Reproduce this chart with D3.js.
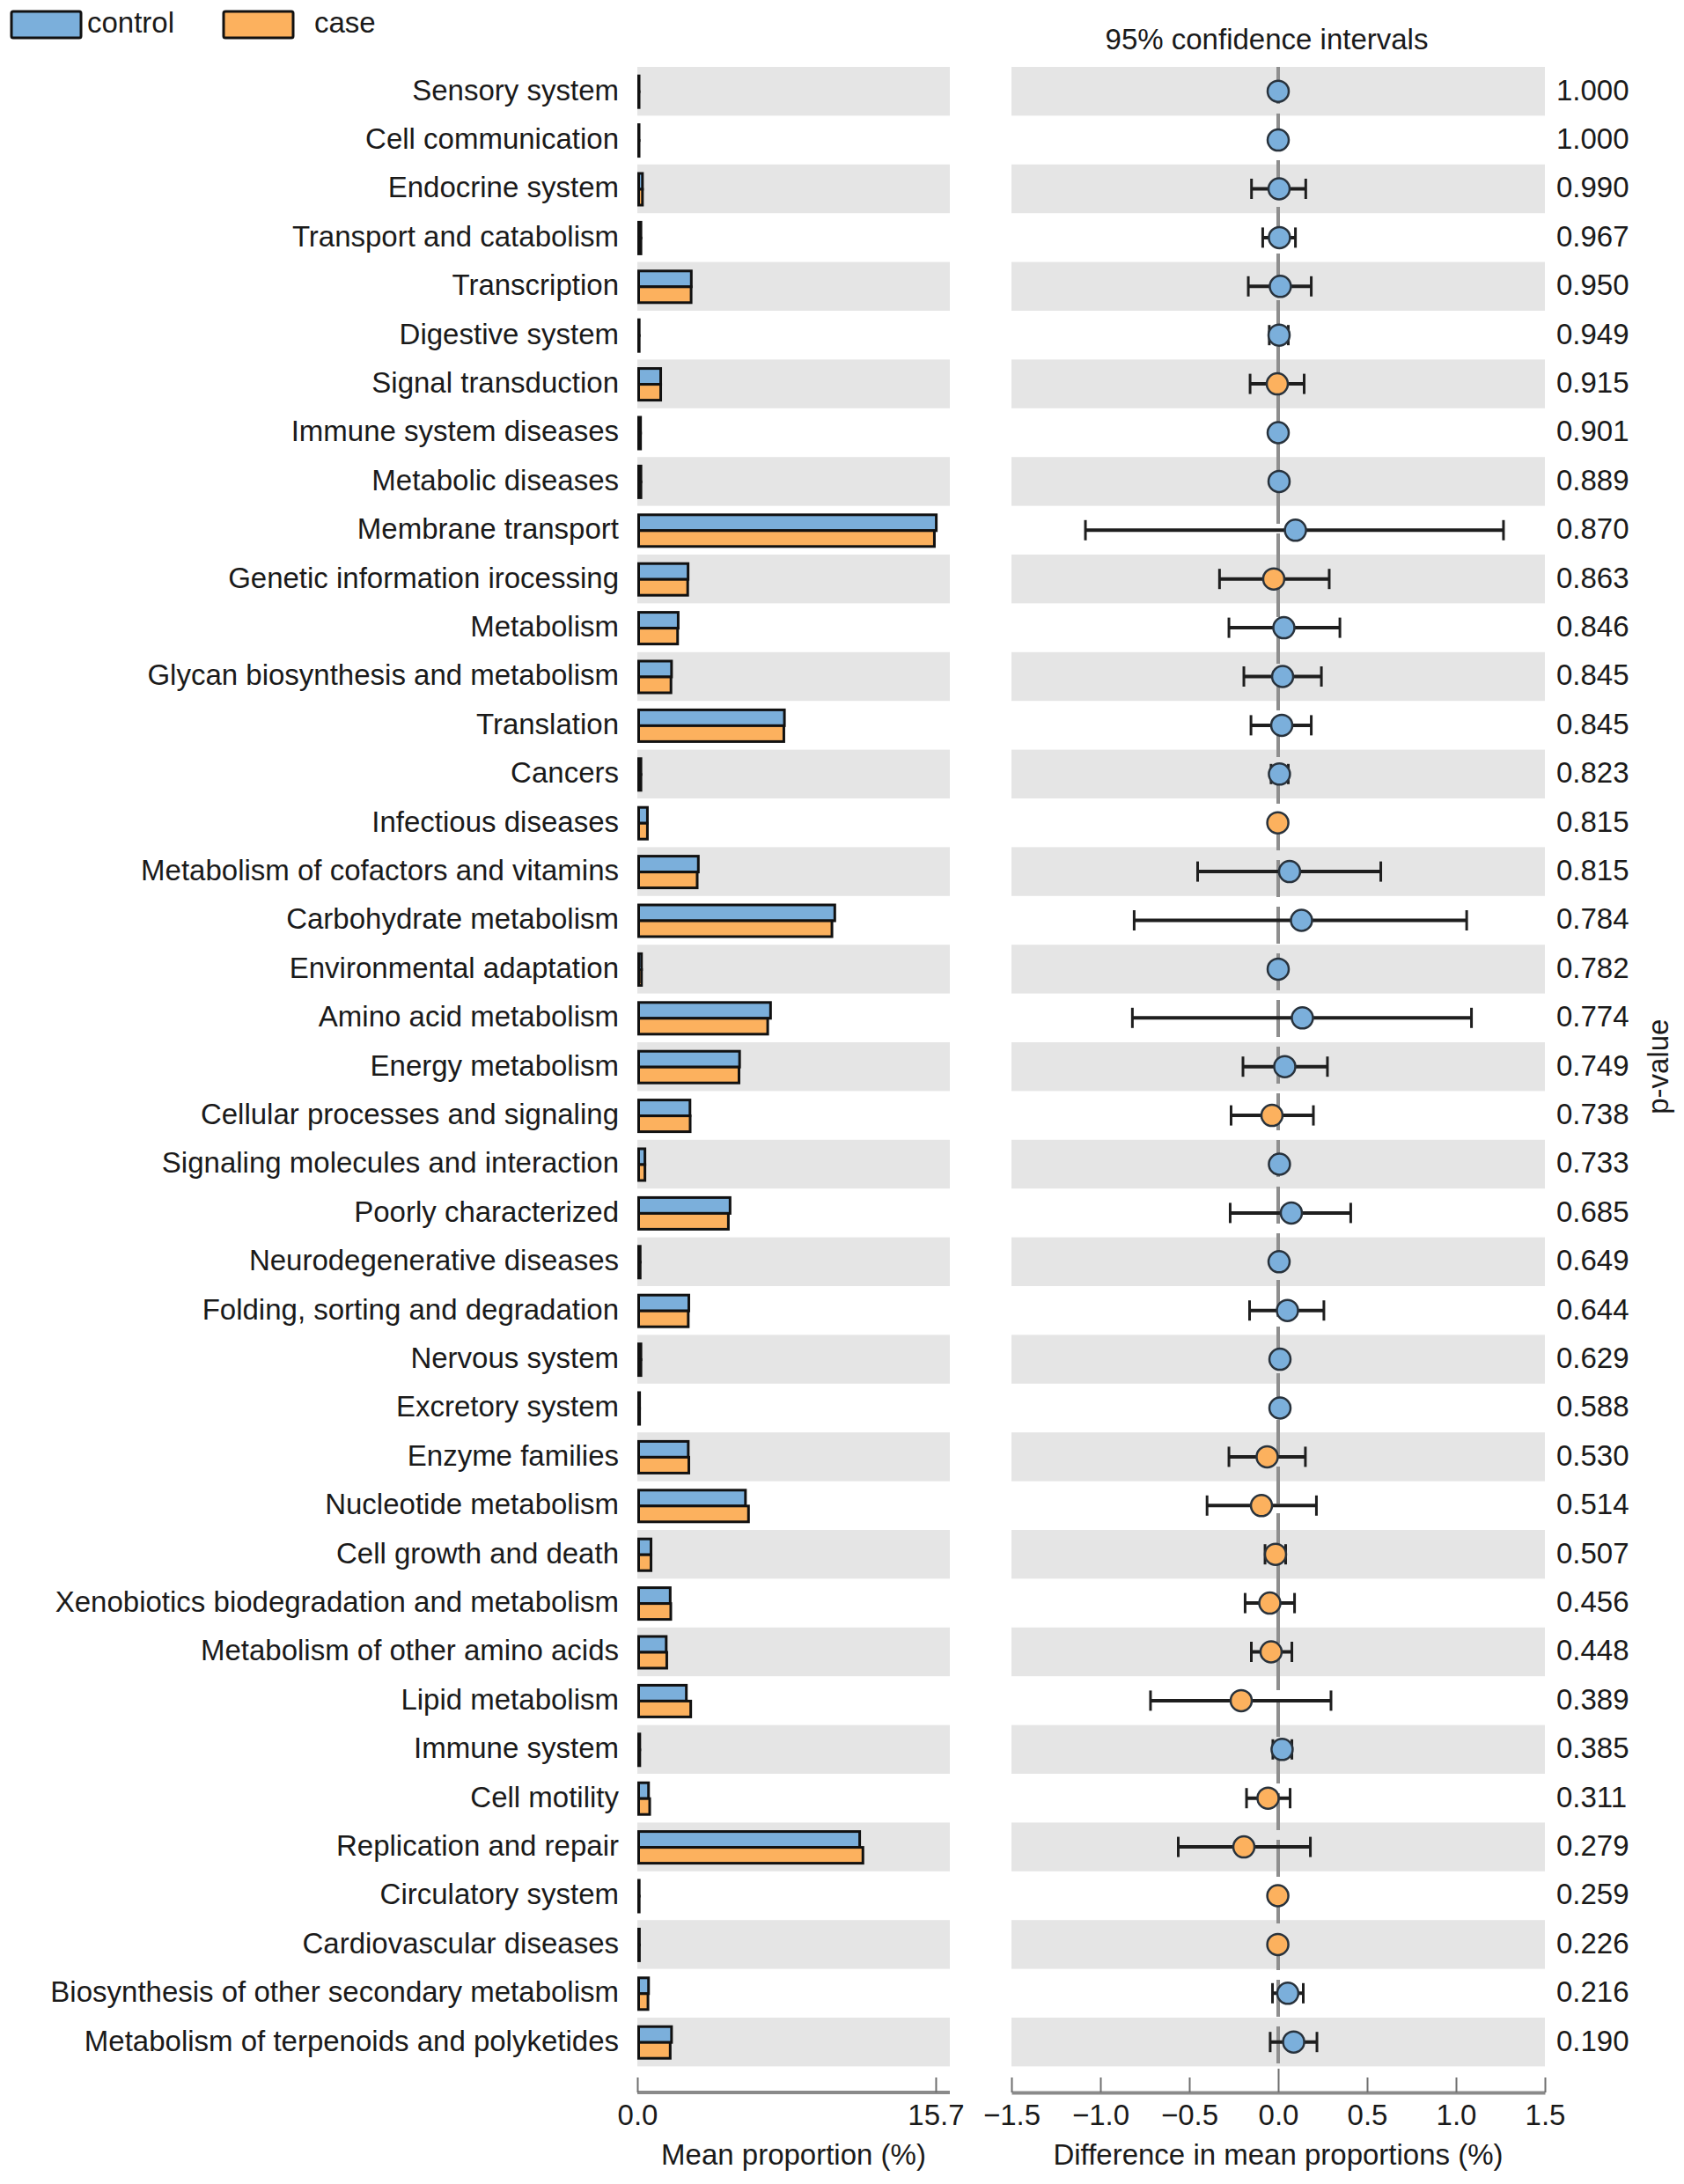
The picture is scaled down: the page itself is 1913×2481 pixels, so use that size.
<!DOCTYPE html>
<html>
<head>
<meta charset="utf-8">
<script src="https://cdn.jsdelivr.net/npm/d3@7"></script>
<style>
  body { margin: 0; background: #fff; }
  text { font-family: "Liberation Sans", Arial, Helvetica, sans-serif; fill: #1a1a1a; }
</style>
</head>
<body>
<svg id="chart"></svg>
<script>
const categories = [
  "Sensory system", "Cell communication", "Endocrine system", "Transport and catabolism",
  "Transcription", "Digestive system", "Signal transduction", "Immune system diseases",
  "Metabolic diseases", "Membrane transport", "Genetic information irocessing", "Metabolism",
  "Glycan biosynthesis and metabolism", "Translation", "Cancers", "Infectious diseases",
  "Metabolism of cofactors and vitamins", "Carbohydrate metabolism", "Environmental adaptation",
  "Amino acid metabolism", "Energy metabolism", "Cellular processes and signaling",
  "Signaling molecules and interaction", "Poorly characterized", "Neurodegenerative diseases",
  "Folding, sorting and degradation", "Nervous system", "Excretory system", "Enzyme families",
  "Nucleotide metabolism", "Cell growth and death", "Xenobiotics biodegradation and metabolism",
  "Metabolism of other amino acids", "Lipid metabolism", "Immune system", "Cell motility",
  "Replication and repair", "Circulatory system", "Cardiovascular diseases",
  "Biosynthesis of other secondary metabolism", "Metabolism of terpenoids and polyketides"
];

const controlMean = [0.02, 0.02, 0.2, 0.12, 2.77, 0.03, 1.16, 0.1, 0.12, 15.66, 2.6, 2.08, 1.73,
  7.67, 0.12, 0.46, 3.14, 10.32, 0.15, 6.94, 5.31, 2.7, 0.33, 4.81, 0.08, 2.64, 0.12, 0.05,
  2.61, 5.62, 0.65, 1.66, 1.45, 2.51, 0.06, 0.52, 11.63, 0.03, 0.04, 0.52, 1.73];

const caseMean = [0.02, 0.02, 0.2, 0.12, 2.76, 0.03, 1.16, 0.1, 0.12, 15.56, 2.58, 2.05, 1.7,
  7.64, 0.12, 0.46, 3.08, 10.17, 0.15, 6.79, 5.28, 2.71, 0.33, 4.72, 0.08, 2.61, 0.12, 0.05,
  2.64, 5.78, 0.65, 1.69, 1.48, 2.74, 0.06, 0.58, 11.8, 0.03, 0.04, 0.49, 1.66];

const diff = [0.0, 0.0, 0.005, 0.007, 0.012, 0.005, -0.005, 0.0, 0.005, 0.097, -0.025, 0.032,
  0.025, 0.02, 0.007, -0.002, 0.064, 0.131, 0.0, 0.136, 0.037, -0.035, 0.007, 0.074, 0.005,
  0.052, 0.01, 0.01, -0.062, -0.094, -0.015, -0.047, -0.04, -0.208, 0.022, -0.057, -0.193,
  -0.002, -0.002, 0.054, 0.087];

const ciLow = [-0.005, -0.005, -0.15, -0.087, -0.168, -0.05, -0.158, -0.008, -0.008, -1.084,
  -0.33, -0.277, -0.193, -0.153, -0.04, -0.02, -0.453, -0.81, -0.01, -0.82, -0.198, -0.265,
  -0.02, -0.27, -0.01, -0.161, -0.012, -0.012, -0.277, -0.4, -0.074, -0.186, -0.151, -0.718,
  -0.03, -0.178, -0.562, -0.015, -0.015, -0.032, -0.045];

const ciHigh = [0.005, 0.005, 0.155, 0.097, 0.186, 0.057, 0.146, 0.008, 0.012, 1.267, 0.287,
  0.347, 0.243, 0.186, 0.057, 0.016, 0.577, 1.06, 0.01, 1.087, 0.277, 0.198, 0.03, 0.408, 0.02,
  0.257, 0.03, 0.03, 0.153, 0.215, 0.042, 0.092, 0.077, 0.297, 0.077, 0.067, 0.181, 0.012,
  0.012, 0.141, 0.218];

const pValues = ["1.000", "1.000", "0.990", "0.967", "0.950", "0.949", "0.915", "0.901", "0.889",
  "0.870", "0.863", "0.846", "0.845", "0.845", "0.823", "0.815", "0.815", "0.784", "0.782",
  "0.774", "0.749", "0.738", "0.733", "0.685", "0.649", "0.644", "0.629", "0.588", "0.530",
  "0.514", "0.507", "0.456", "0.448", "0.389", "0.385", "0.311", "0.279", "0.259", "0.226",
  "0.216", "0.190"];

const groups = ["control", "case"];
const diffTicks = [-1.5, -1.0, -0.5, 0.0, 0.5, 1.0, 1.5];

const width = 1913;
const height = 2481;
const blue = "#7bafdb";
const orange = "#fcb15e";
const band = "#e5e5e5";

const svg = d3.select("#chart")
    .attr("width", width)
    .attr("height", height);

const rows = d3.range(categories.length);

const y = d3.scaleBand()
    .domain(rows)
    .range([76, 76 + 55.4 * categories.length]);

const maxMean = d3.max(controlMean.concat(caseMean));
const xMean = d3.scaleLinear()
    .domain([0, maxMean * 1.05])
    .range([724, 1079]);

const xDiff = d3.scaleLinear()
    .domain([-1.5, 1.5])
    .range([1149, 1755]);

const color = d3.scaleOrdinal().domain(groups).range([blue, orange]);

// background bands
svg.append("g")
    .selectAll("rect")
    .data(rows.filter(i => i % 2 === 0))
    .join("rect")
        .attr("x", xMean.range()[0])
        .attr("y", i => y(i))
        .attr("width", xMean.range()[1] - xMean.range()[0])
        .attr("height", y.bandwidth())
        .attr("fill", band);

svg.append("g")
    .selectAll("rect")
    .data(rows.filter(i => i % 2 === 0))
    .join("rect")
        .attr("x", xDiff.range()[0])
        .attr("y", i => y(i))
        .attr("width", xDiff.range()[1] - xDiff.range()[0])
        .attr("height", y.bandwidth())
        .attr("fill", band);

// category labels
svg.append("g")
    .selectAll("text")
    .data(rows)
    .join("text")
        .attr("x", 703)
        .attr("y", i => y(i) + y.bandwidth() / 2)
        .attr("dy", "0.3em")
        .attr("text-anchor", "end")
        .attr("font-size", 33)
        .text(i => categories[i]);

// mean proportion bars
const barH = 18;
const bars = svg.append("g");
bars.selectAll("rect.control")
    .data(rows)
    .join("rect")
        .attr("class", "control")
        .attr("x", xMean(0) + 1.5)
        .attr("y", i => y(i) + y.bandwidth() / 2 - barH + 0.5)
        .attr("width", i => Math.max(0.5, xMean(controlMean[i]) - xMean(0)))
        .attr("height", barH)
        .attr("fill", color("control"))
        .attr("stroke", "#111")
        .attr("stroke-width", 3);
bars.selectAll("rect.case")
    .data(rows)
    .join("rect")
        .attr("class", "case")
        .attr("x", xMean(0) + 1.5)
        .attr("y", i => y(i) + y.bandwidth() / 2 + 0.5)
        .attr("width", i => Math.max(0.5, xMean(caseMean[i]) - xMean(0)))
        .attr("height", barH)
        .attr("fill", color("case"))
        .attr("stroke", "#111")
        .attr("stroke-width", 3);

// zero line
svg.append("line")
    .attr("x1", xDiff(0))
    .attr("x2", xDiff(0))
    .attr("y1", y.range()[0])
    .attr("y2", y.range()[1])
    .attr("stroke", "#8f8f8f")
    .attr("stroke-width", 4)
    .attr("stroke-dasharray", "42,11");

// confidence intervals
const ci = svg.append("g");
ci.selectAll("line.ci")
    .data(rows)
    .join("line")
        .attr("class", "ci")
        .attr("x1", i => xDiff(ciLow[i]))
        .attr("x2", i => xDiff(ciHigh[i]))
        .attr("y1", i => y(i) + y.bandwidth() / 2)
        .attr("y2", i => y(i) + y.bandwidth() / 2)
        .attr("stroke", "#1e1e1e")
        .attr("stroke-width", 4);
["lo", "hi"].forEach(end => {
    ci.selectAll("line.cap-" + end)
        .data(rows)
        .join("line")
            .attr("class", "cap-" + end)
            .attr("x1", i => xDiff(end === "lo" ? ciLow[i] : ciHigh[i]))
            .attr("x2", i => xDiff(end === "lo" ? ciLow[i] : ciHigh[i]))
            .attr("y1", i => y(i) + y.bandwidth() / 2 - 11.5)
            .attr("y2", i => y(i) + y.bandwidth() / 2 + 11.5)
            .attr("stroke", "#1e1e1e")
            .attr("stroke-width", 3);
});
ci.selectAll("circle")
    .data(rows)
    .join("circle")
        .attr("cx", i => xDiff(diff[i]))
        .attr("cy", i => y(i) + y.bandwidth() / 2)
        .attr("r", 12)
        .attr("fill", i => diff[i] >= 0 ? color("control") : color("case"))
        .attr("stroke", "#28323c")
        .attr("stroke-width", 2.5);

// p-values
svg.append("g")
    .selectAll("text")
    .data(rows)
    .join("text")
        .attr("x", 1768)
        .attr("y", i => y(i) + y.bandwidth() / 2)
        .attr("dy", "0.3em")
        .attr("font-size", 33)
        .text(i => pValues[i]);

svg.append("text")
    .attr("transform", `translate(1895, ${(y.range()[0] + y.range()[1]) / 2}) rotate(-90)`)
    .attr("text-anchor", "middle")
    .attr("font-size", 33)
    .text("p-value");

// axes
const axisY = 2377;
function styleAxis(g) {
    g.select(".domain").attr("stroke", "#8a8a8a").attr("stroke-width", 4);
    g.selectAll(".tick line").attr("stroke", "#6f6f6f").attr("stroke-width", 2);
    g.selectAll(".tick text")
        .attr("font-size", 33)
        .attr("font-family", "'Liberation Sans', Arial, sans-serif")
        .attr("fill", "#1a1a1a")
        .attr("dy", 0)
        .attr("y", 37);
}

const meanAxis = svg.append("g")
    .attr("transform", `translate(0, ${axisY})`)
    .call(d3.axisTop(xMean).tickValues([0, 15.7]).tickFormat(d3.format(".1f")).tickSize(17).tickSizeOuter(0))
    .call(styleAxis);
meanAxis.select(".domain").attr("d", `M${xMean.range()[0]},0H${xMean.range()[1]}`);

const diffAxis = svg.append("g")
    .attr("transform", `translate(0, ${axisY})`)
    .call(d3.axisTop(xDiff).tickValues(diffTicks).tickFormat(d3.format(".1f")).tickSize(17).tickSizeOuter(0))
    .call(styleAxis);
diffAxis.selectAll(".tick line").filter(d => d === 0).attr("y2", -27);

svg.append("text")
    .attr("x", (xMean.range()[0] + xMean.range()[1]) / 2)
    .attr("y", 2459)
    .attr("text-anchor", "middle")
    .attr("font-size", 33)
    .text("Mean proportion (%)");

svg.append("text")
    .attr("x", (xDiff.range()[0] + xDiff.range()[1]) / 2)
    .attr("y", 2459)
    .attr("text-anchor", "middle")
    .attr("font-size", 33)
    .text("Difference in mean proportions (%)");

svg.append("text")
    .attr("x", 1439)
    .attr("y", 56)
    .attr("text-anchor", "middle")
    .attr("font-size", 33)
    .text("95% confidence intervals");

// legend
const legendX = [13, 254];
const legendTextX = [99, 357];
const legend = svg.append("g")
    .selectAll("g")
    .data(groups)
    .join("g");
legend.append("rect")
    .attr("x", (d, i) => legendX[i])
    .attr("y", 13)
    .attr("width", 79)
    .attr("height", 30)
    .attr("rx", 2)
    .attr("fill", d => color(d))
    .attr("stroke", "#111")
    .attr("stroke-width", 3);
legend.append("text")
    .attr("x", (d, i) => legendTextX[i])
    .attr("y", 37)
    .attr("font-size", 33)
    .text(d => d);
</script>
</body>
</html>
